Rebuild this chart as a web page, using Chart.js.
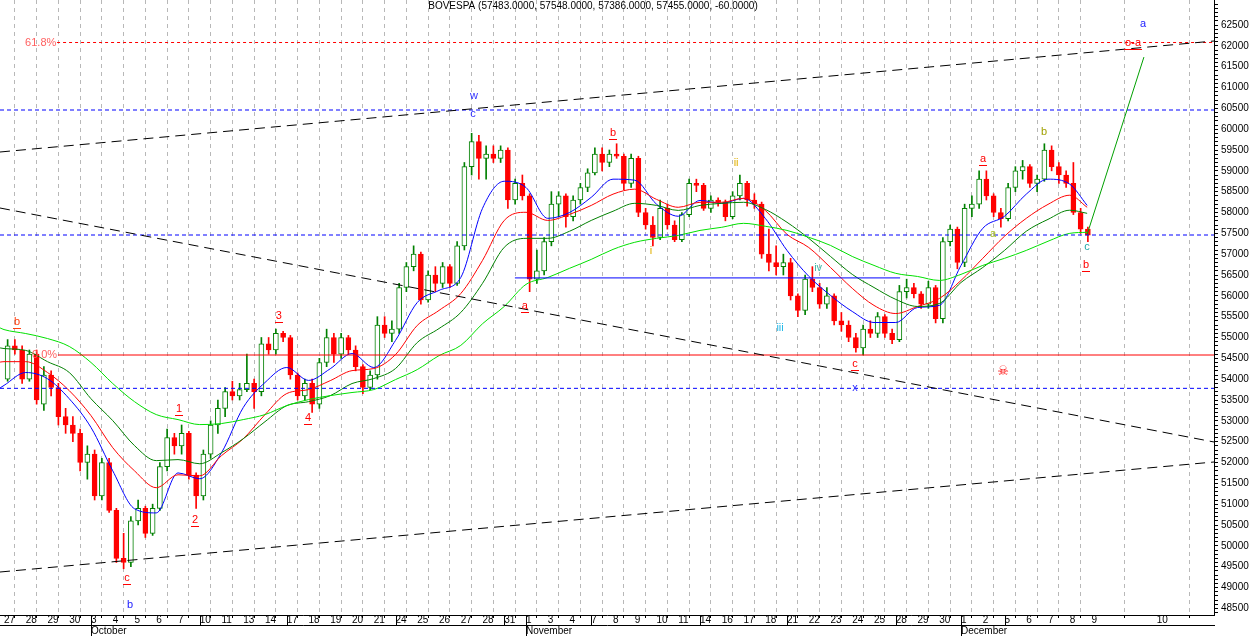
<!DOCTYPE html>
<html>
<head>
<meta charset="utf-8">
<script src="https://cdn.jsdelivr.net/npm/chart.js@4.4.1/dist/chart.umd.min.js"></script>
<style>
  html, body { margin: 0; padding: 0; background: #fff; }
  #chart { display: block; }
</style>
</head>
<body>
<canvas id="chart" width="1250" height="636"></canvas>
<script>
// day axis (one slot per trading day, Sep 27 .. Dec 9, then Dec 10 in the empty area)
const dayLabels = ["27","28","29","30","3","4","5","6","7","10","11","13","14","17","18","19","20","21","24","25","26","27","28","31",
  "1","3","4","7","8","9","10","11","14","16","17","18","21","22","23","24","25","28","29","30","1","2","5","6","7","8","9"];
const futureTickPos = 53;
const futureTickLabel = "10";
const monthStarts = [4, 24, 44];
const monthNames = ["October", "November", "December"];
const weekStarts = [4, 9, 13, 18, 23, 27, 32, 36, 41, 46];
const barsPerDay = 3;

// price bars, three per day
const opens = [
  54000,54800,54700, 54000,54600,53400, 54100,53800,53100, 52900,52700,52000, 52200,51200,52000,
  50850,49700,49600, 50600,50900,50300, 50900,51900,52600, 52400,52700,51700, 51200,52200,52900,
  53300,53700,53600, 53750,53900,53700, 54850,54700,55100, 55000,54100,53600, 53900,53400,54400,
  55000,54600,55000, 54700,54300,53800, 54100,55300,55100, 55200,56200,56700, 57000,55900,56500,
  56300,56700,56300, 57200,59100,59700, 59300,59400,59300, 59500,58300,58700, 58400,56400,56600,
  57300,58200,58400, 57900,58300,58600, 58950,59400,59200, 59400,59350,58700, 59300,58000,57700,
  57400,58100,57700, 57350,57950,58700, 58650,58100,58300, 58250,57900,58400, 58700,58300,58200,
  57000,56800,56700, 56800,56000,55650, 56400,56200,55800, 56000,55400,55300, 55000,54750,55200,
  55100,55500,55100, 54950,56100,56200, 56050,55800,56200, 55450,57300,57600, 56800,58100,58200,
  58800,58400,58000, 57850,58600,59000, 59100,58700,58800, 59500,59100,58900, 58700,58000,57600
];
const highs = [
  54950,54950,54800, 54700,54700,54300, 54200,53900,53300, 53100,52800,52400, 52300,52100,52100,
  50900,50300,50700, 51100,50950,51000, 52000,52800,52700, 52900,52750,51750, 52300,53000,53500,
  53800,53950,53900, 54600,54000,55000, 55000,55200,55150, 55050,54150,54000, 54000,54500,55200,
  55100,55100,55050, 54800,54350,54200, 55500,55500,55400, 56300,56800,57200, 57050,56600,56700,
  56800,56750,57300, 59200,59900,59850, 59600,59600,59600, 59550,58800,58900, 58450,57100,57400,
  58500,58500,58450, 58400,58700,59050, 59550,59550,59500, 59650,59400,59400, 59350,58100,57900,
  58300,58200,57800, 58000,58800,58800, 58700,58400,58350, 58300,58500,58900, 58750,58450,58250,
  57600,57200,57000, 56900,56050,56500, 56700,56300,56200, 56050,55600,55400, 55100,55300,55400,
  55600,55550,55200, 56250,56400,56300, 56100,56350,56250, 57400,57700,57650, 58200,58400,59000,
  59000,58450,58100, 58700,59100,59250, 59150,58900,59650, 59600,59200,59000, 59200,58100,57650
];
const lows = [
  53950,54600,53900, 53950,53400,53250, 53600,52900,52700, 52500,51800,51600, 51100,51100,50800,
  49600,49450,49500, 50500,50200,50250, 50850,51800,52200, 52200,51600,50900, 51100,52100,52700,
  53100,53500,53500, 53700,53300,53600, 54600,54600,54900, 54000,53500,53500, 53200,53300,54300,
  54400,54500,54600, 54200,53650,53750, 54000,55000,54900, 55100,56100,56600, 55800,55850,56100,
  56200,56200,56250, 57100,58900,58800, 58800,59200,59200, 58100,58200,58300, 56100,56300,56500,
  57200,57900,57650, 57800,58200,58500, 58900,59000,59100, 59300,58550,58600, 57900,57600,57200,
  57350,57600,57300, 57300,57900,58500, 58050,58000,58150, 57800,57850,58300, 58150,58100,56900,
  56600,56500,56500, 55900,55500,55550, 56100,55700,55700, 55300,55150,54900, 54650,54580,55000,
  55000,55000,54850, 54900,55950,55950, 55700,55700,55350, 55350,57200,56650, 56700,57900,58100,
  58300,57900,57650, 57800,58500,58800, 58600,58500,58750, 59000,58700,58600, 57950,57500,57300
];
const closes = [
  54800,54700,54000, 54600,53500,54100, 53800,53100,52900, 52700,52000,52200, 51200,52000,50850,
  49700,49600,50600, 50900,50300,50900, 51900,52600,52400, 52700,51700,51200, 52200,52900,53300,
  53700,53600,53750, 53900,53700,54850, 54700,55100,55000, 54100,53600,53900, 53400,54400,55000,
  54600,55000,54700, 54300,53800,54100, 55300,55100,55200, 56200,56700,57000, 55900,56500,56300,
  56700,56300,57200, 59100,59700,59300, 59400,59300,59500, 58300,58700,58400, 56400,56600,57300,
  58200,58400,57900, 58300,58600,58950, 59400,59200,59400, 59350,58700,59300, 58000,57700,57400,
  58100,57700,57350, 57950,58700,58650, 58100,58300,58250, 57900,58400,58700, 58300,58200,57000,
  56800,56700,56800, 56000,55650,56400, 56200,55800,56000, 55400,55300,55000, 54750,55200,55100,
  55500,55100,54950, 56100,56200,56050, 55800,56200,55450, 57300,57600,56800, 58100,58200,58800,
  58400,58000,57850, 58600,59000,59100, 58700,58800,59500, 59100,58900,58700, 58000,57600,57455
];

// moving averages, read at the left edge, at each day tick, and at the last bar
const maDays = [-0.18, 0,1,2,3,4,5,6,7,8,9, 10,11,12,13,14,15,16,17,18,19, 20,21,22,23,24,25,26,27,28,29,
  30,31,32,33,34,35,36,37,38,39, 40,41,42,43,44,45,46,47,48,49, 49.8];
const blueMA = [53790, 53850,54160,54010,53530,52840,51800,50890,50790,51750,51610,
  52235,53320,53920,54280,53970,54250,54615,54280,54930,55840,
  56130,56440,58100,58750,58600,57860,58000,58365,58800,58775,
  58200,57910,58290,58220,58340,57860,57090,56470,56010,55625,
  55360,55360,55720,55770,56730,57620,57910,58440,58800,58680, 58170];
const redMA = [54410, 54420,54420,54160,53725,53125,52355,51800,51395,51705,51680,
  52165,52570,53150,53655,53750,53965,54205,54255,54590,55290,
  55650,56055,56850,57810,58005,57810,57955,58170,58440,58560,
  58315,58125,58245,58245,58340,58050,57475,57160,56680,56180,
  55770,55575,55745,55935,56370,56900,57430,57860,58195,58415, 58125];
const darkGreenMA = [54750, 54735,54690,54420,54160,53530,53005,52405,52045,52070,51970,
  52235,52570,52980,53365,53460,53605,53895,54015,54255,54880,
  55215,55600,56300,57165,57380,57380,57550,57810,58030,58220,
  58170,58050,58170,58220,58245,58075,57765,57380,56945,56515,
  56200,55915,55745,55815,56320,56680,57090,57550,57835,58055, 57980];
const lightGreenMA = [55230, 55190,55095,54975,54785,54400,53895,53460,53150,53030,52910,
  52935,53030,53150,53365,53510,53605,53680,53750,53990,54230,
  54565,54810,55330,55745,56275,56440,56660,56875,57115,57285,
  57380,57450,57570,57645,57740,57670,57570,57405,57210,56945,
  56730,56540,56465,56370,56515,56730,56900,57090,57310,57500, 57525];

// drawn studies: [fromDay, fromValue, toDay, toValue]
const xMin = -0.184, xMax = 55.632;
const upperChannel = [xMin, 59452, xMax, 62116];
const downTrend = [xMin, 58108, xMax, 52492];
const lowerChannel = [xMin, 49372, xMax, 52012];
const fib618 = [2.44, 62080, xMax, 62080];
const fib0 = [2.48, 54580, xMax, 54580];
const blueLevels = [60460, 57460, 53780];
const blueSupport = [23.49, 56430, 41.2, 56430];
const projection = [49.79, 57460, 52.41, 61730];

const waveLabels = [
  { t: "b", d: 0.6, v: 55370, c: "#ff4010", u: true },
  { t: "0.0%", d: 1.29, v: 54580, c: "#ff6060", left: true },
  { t: "61.8%", d: 0.97, v: 62080, c: "#ff6060", left: true },
  { t: "c", d: 5.66, v: 49230, c: "#ff0000", u: true },
  { t: "b", d: 5.79, v: 48580, c: "#2020ff" },
  { t: "1", d: 8.05, v: 53280, c: "#ff0000", u: true },
  { t: "2", d: 8.78, v: 50620, c: "#ff0000", u: true },
  { t: "3", d: 12.64, v: 55520, c: "#ff0000", u: true },
  { t: "4", d: 13.98, v: 53070, c: "#ff0000", u: true },
  { t: "w", d: 21.61, v: 60800, c: "#3030ff" },
  { t: "c", d: 21.56, v: 60360, c: "#3030ff" },
  { t: "a", d: 23.95, v: 55760, c: "#ff0000", u: true },
  { t: "b", d: 28.0, v: 59910, c: "#ff0000", u: true },
  { t: "ii", d: 33.66, v: 59190, c: "#e0b000" },
  { t: "i", d: 29.75, v: 57080, c: "#e0b000" },
  { t: "iii", d: 35.68, v: 55230, c: "#20b8e8" },
  { t: "iv", d: 37.43, v: 56670, c: "#40b8a8" },
  { t: "c", d: 39.13, v: 54360, c: "#ff0000", u: true },
  { t: "x", d: 39.13, v: 53790, c: "#3030ff" },
  { t: "\u2620", d: 45.93, v: 54170, c: "#ff0000" },
  { t: "a", d: 45.01, v: 59280, c: "#ff0000", u: true },
  { t: "a", d: 45.47, v: 57480, c: "#a8c020" },
  { t: "b", d: 47.82, v: 59930, c: "#a0a000" },
  { t: "c", d: 49.79, v: 57170, c: "#20a8a8" },
  { t: "b", d: 49.75, v: 56740, c: "#ff0000", u: true },
  { t: "a", d: 52.37, v: 62520, c: "#2020ff" },
  { t: "o-a", d: 51.91, v: 62070, c: "#ff0000", u: true }
];
const titleText = "BOVESPA (57483.0000, 57548.0000, 57386.0000, 57455.0000, -60.0000)";

// ---- build datasets ----
const barPos = i => Math.floor(i / barsPerDay) + ((i % barsPerDay) + 0.5) / barsPerDay;
const isUp = i => closes[i] >= opens[i];
const barColors = closes.map((c, i) => isUp(i) ? "#008000" : "#ff0000");
const bodyFill = closes.map((c, i) => isUp(i) ? "#ffffff" : "#ff0000");
const wickData = closes.map((c, i) => ({ x: barPos(i), y: [lows[i], highs[i]] }));
const bodyData = closes.map((c, i) => ({ x: barPos(i), y: [opens[i], c] }));

const seg = s => [{ x: s[0], y: s[1] }, { x: s[2], y: s[3] }];
const maLine = (vals, color) => ({
  type: "line", data: vals.map((v, i) => ({ x: maDays[i], y: v })),
  borderColor: color, borderWidth: 1, pointRadius: 0, cubicInterpolationMode: "monotone", order: 2
});
const study = (s, color, dash) => ({
  type: "line", data: seg(s), borderColor: color, borderWidth: 1, borderDash: dash,
  pointRadius: 0, tension: 0, order: 1
});

const datasets = [
  { type: "bar", data: wickData, backgroundColor: barColors, barThickness: 1, grouped: false, order: 10 },
  { type: "bar", data: bodyData, backgroundColor: bodyFill, borderColor: barColors, borderWidth: 1,
    borderSkipped: false, barThickness: 5, minBarLength: 2, grouped: false, order: 9 },
  maLine(lightGreenMA, "#00e000"),
  maLine(darkGreenMA, "#008000"),
  maLine(redMA, "#ff0000"),
  maLine(blueMA, "#0000ff"),
  study(upperChannel, "#000000", [10, 6]),
  study(downTrend, "#000000", [10, 6]),
  study(lowerChannel, "#000000", [10, 6]),
  study(fib618, "#ff0000", [3, 3]),
  study(fib0, "#ff0000", []),
  ...blueLevels.map(v => study([xMin, v, xMax, v], "#0000ff", [4, 3])),
  study(blueSupport, "#0000ff", []),
  study(projection, "#00a000", [])
];

const allTickPos = dayLabels.map((l, i) => i).concat([futureTickPos]);
const allTickLabels = dayLabels.concat([futureTickLabel]);

const labelPlugin = {
  id: "waveLabels",
  afterDatasetsDraw(chart) {
    const { ctx, scales: { x, y } } = chart;
    ctx.save();
    ctx.textBaseline = "middle";
    waveLabels.forEach(l => {
      const px = x.getPixelForValue(l.d), py = y.getPixelForValue(l.v);
      ctx.font = l.t === "\u2620" ? '13px "DejaVu Sans"' : '11px "Liberation Sans", Arial, sans-serif';
      ctx.fillStyle = l.c;
      ctx.textAlign = l.left ? "left" : "center";
      ctx.fillText(l.t, px, py);
      if (l.u) {
        const w = ctx.measureText(l.t).width;
        ctx.fillRect(Math.round(px - w / 2 - 1), Math.round(py + 6), Math.round(w + 2), 1);
      }
    });
    // chart title
    ctx.font = '10px "Liberation Sans", Arial, sans-serif';
    ctx.fillStyle = "#000";
    ctx.textAlign = "center";
    ctx.fillText(titleText, 593, 6);
    ctx.restore();
  }
};

const separatorPlugin = {
  id: "separators",
  afterDraw(chart) {
    const { ctx, scales: { x, xm } } = chart;
    ctx.save();
    ctx.strokeStyle = "#000";
    ctx.lineWidth = 1;
    const line = (d, bottom) => {
      const px = Math.round(x.getPixelForValue(d)) + 0.5;
      ctx.beginPath();
      ctx.moveTo(px, x.top);
      ctx.lineTo(px, bottom);
      ctx.stroke();
    };
    weekStarts.forEach(d => line(d, x.bottom));
    monthStarts.forEach(d => line(d, xm.bottom));
    ctx.restore();
  }
};

const axisFont = { family: '"Liberation Sans", Arial, sans-serif', size: 10, lineHeight: 1 };
const noPad = s => { s.paddingTop = 0; s.paddingBottom = 0; s.paddingLeft = 0; s.paddingRight = 0; };

new Chart(document.getElementById("chart"), {
  type: "line",
  data: { datasets },
  options: {
    responsive: false,
    animation: false,
    devicePixelRatio: 1,
    layout: { padding: 0 },
    plugins: { legend: { display: false }, tooltip: { enabled: false }, title: { display: false } },
    scales: {
      x: {
        type: "linear", position: "bottom", min: xMin, max: xMax, offset: false, weight: 0,
        afterBuildTicks: s => { s.ticks = allTickPos.map(v => ({ value: v })); },
        afterFit: s => { s.height = 10; noPad(s); },
        ticks: { autoSkip: false, maxRotation: 0, align: "start", padding: -3, color: "#000", font: axisFont,
          callback: (v, i) => allTickLabels[i] },
        grid: { color: "#b8b8b8", lineWidth: 1, tickLength: 3, tickColor: "#000" },
        border: { color: "#000", width: 1, dash: [4, 4] }
      },
      xm: {
        type: "linear", position: "bottom", min: xMin, max: xMax, offset: false, weight: 1,
        afterBuildTicks: s => { s.ticks = monthStarts.map(v => ({ value: v })); },
        afterFit: s => { s.height = 11; noPad(s); },
        ticks: { autoSkip: false, maxRotation: 0, align: "start", padding: 1, color: "#000", font: axisFont,
          callback: (v, i) => monthNames[i] },
        grid: { display: false, drawTicks: false },
        border: { color: "#000", width: 1 }
      },
      y: {
        type: "linear", position: "right", min: 48340, max: 63100,
        afterBuildTicks: s => {
          const t = [];
          for (let v = 48400; v <= 63000; v += 100) t.push({ value: v });
          s.ticks = t;
        },
        afterFit: s => { s.width = 36; noPad(s); },
        ticks: { autoSkip: false, padding: 3, color: "#000", font: axisFont,
          callback: v => (v % 500 === 0 && v <= 62500 ? String(v) : "") },
        grid: { drawOnChartArea: false, tickLength: 4, tickColor: "#000" },
        border: { color: "#000", width: 1 }
      }
    }
  },
  plugins: [labelPlugin, separatorPlugin]
});
</script>
</body>
</html>
